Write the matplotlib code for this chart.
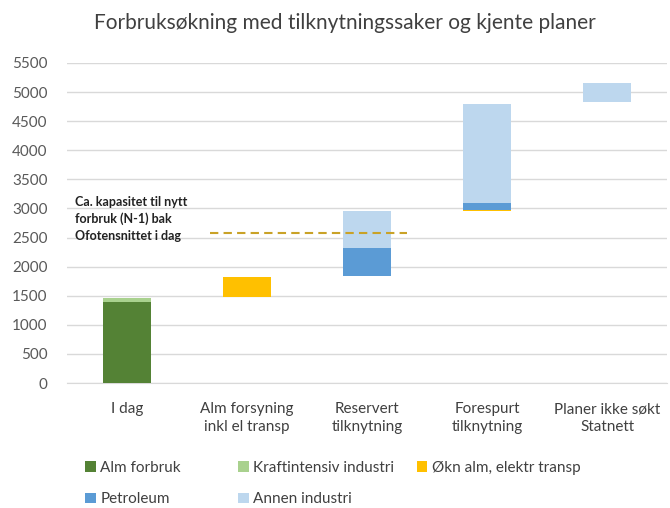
import matplotlib.pyplot as plt
import numpy as np

plt.rcParams['font.family'] = ['Lato', 'DejaVu Sans']

categories = ["I dag", "Alm forsyning\ninkl el transp", "Reservert\ntilknytning", "Forespurt\ntilknytning", "Planer ikke søkt\nStatnett"]
base = [0, 1470, 1833, 2953, 4830]
alm_forbruk = [1390, 0, 0, 0, 0]
kraftintensiv = [70, 0, 0, 0, 0]
okn_alm = [0, 352, 10, 18, 0]
petroleum = [0, 0, 477, 115, 0]
annen = [0, 0, 643, 1707, 325]
capacity = 2580

series = [
    ("Alm forbruk", alm_forbruk, "#548235"),
    ("Kraftintensiv industri", kraftintensiv, "#A9D18E"),
    ("Økn alm, elektr transp", okn_alm, "#FFC000"),
    ("Petroleum", petroleum, "#5B9BD5"),
    ("Annen industri", annen, "#BDD7EE"),
]

fig = plt.figure(figsize=(6.7, 5.08), dpi=100)
ax = fig.add_axes([0.1, 0.246, 0.896, 0.63])
x = np.arange(len(categories))
bottom = np.array(base, dtype=float)
handles = []
for name, vals, col in series:
    h = ax.bar(x, vals, 0.4, bottom=bottom, color=col, label=name, zorder=3)
    handles.append(h)
    bottom += np.array(vals)

ax.plot([0.69, 2.33], [capacity, capacity], ls=(0, (4, 2.5)), color="#C9A227", lw=1.5, zorder=4)
ax.text(0.013, 0.5125, "Ca. kapasitet til nytt\nforbruk (N-1) bak\nOfotensnittet i dag",
        transform=ax.transAxes, fontsize=9, color="#222222", fontweight="bold",
        va="center", ha="left", linespacing=1.5)

ax.set_xlim(-0.5, 4.5)
ax.set_ylim(0, 5500)
ax.set_yticks(np.arange(0, 5501, 500))
ax.set_xticks(x)
ax.set_xticklabels(categories, fontsize=11, color="#404040", linespacing=1.35)
ax.tick_params(axis="y", labelsize=11, colors="#595959", length=0, pad=14)
ax.tick_params(axis="x", length=0, pad=14)
ax.grid(axis="y", color="#D9D9D9", lw=1, zorder=0)
for s in ["top", "right", "left"]:
    ax.spines[s].set_visible(False)
ax.spines["bottom"].set_color("#D9D9D9")

fig.text(0.515, 0.955, "Forbruksøkning med tilknytningssaker og kjente planer",
         ha="center", va="center", fontsize=15, color="#404040")

cols = [([0, 3], 0.127), ([1, 4], 0.355), ([2], 0.622)]
for idx, xpos in cols:
    leg = fig.legend([handles[i] for i in idx], [series[i][0] for i in idx],
                     loc="upper left", bbox_to_anchor=(xpos, 0.093), frameon=False,
                     fontsize=11, handlelength=0.7, handleheight=0.7, handletextpad=0.3,
                     labelspacing=1.15, borderpad=0, borderaxespad=0)
    for t in leg.get_texts():
        t.set_color("#404040")

fig.savefig("out.png", dpi=100)
